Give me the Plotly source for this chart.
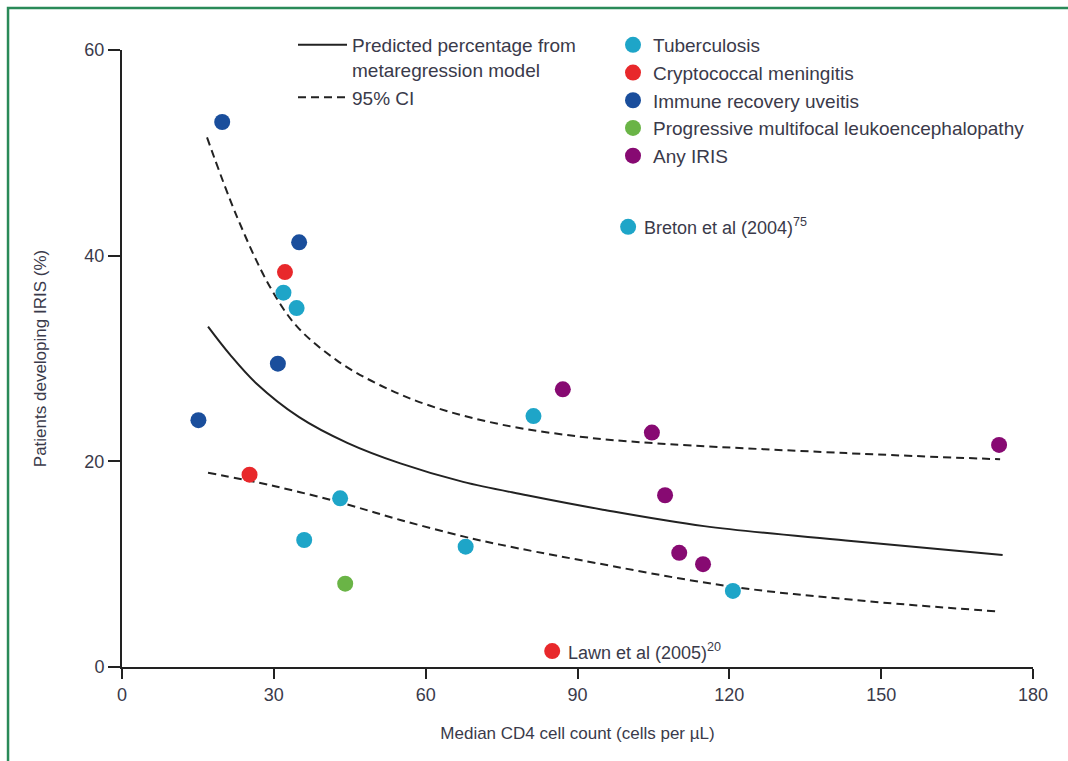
import plotly.graph_objects as go

# ---- data ----
model_x = [17.0, 21.3, 26.5, 35.0, 44.5, 55.0, 67.4, 80.0, 95.0, 115.0, 143.0, 174.0]
model_y = [33.1, 30.4, 27.6, 24.3, 21.8, 19.8, 18.0, 16.7, 15.3, 13.7, 12.3, 10.9]

ci_up_x = [16.8, 22.7, 29.2, 34.6, 42.5, 51.0, 60.9, 74.7, 90.5, 104.1, 143.1, 173.5]
ci_up_y = [51.5, 43.8, 37.0, 33.1, 29.8, 27.4, 25.4, 23.6, 22.4, 21.8, 20.8, 20.2]

ci_lo_x = [17.0, 30.0, 43.1, 55.0, 67.4, 74.7, 90.5, 119.2, 145.0, 173.1]
ci_lo_y = [18.9, 17.6, 16.0, 14.3, 12.7, 11.9, 10.4, 7.9, 6.5, 5.4]

tb_x = [31.9, 34.5, 81.3, 43.1, 36.0, 67.9, 120.7, 100.0]
tb_y = [36.4, 34.9, 24.4, 16.4, 12.35, 11.7, 7.4, 42.8]

cm_x = [32.2, 25.2, 85.0]
cm_y = [38.4, 18.7, 1.55]

iru_x = [19.8, 35.0, 30.8, 15.1]
iru_y = [53.0, 41.3, 29.5, 24.0]

pml_x = [44.1]
pml_y = [8.1]

any_x = [87.1, 104.7, 107.3, 110.1, 114.8, 173.3]
any_y = [27.0, 22.8, 16.7, 11.1, 10.0, 21.6]

x_ticks = [0, 30, 60, 90, 120, 150, 180]
y_ticks = [0, 20, 40, 60]

FONT = "Liberation Sans"
TXT = "#3a3a4a"
DASH = "8px,5px"

fig = go.Figure()

fig.add_trace(go.Scatter(x=model_x, y=model_y, mode="lines", line=dict(color="#222222", width=2, shape="spline"),
                         name="Predicted percentage from<br>metaregression model", legend="legend"))
fig.add_trace(go.Scatter(x=ci_up_x, y=ci_up_y, mode="lines", line=dict(color="#222222", width=2, dash=DASH, shape="spline"),
                         name="95% CI", legend="legend", legendgroup="ci"))
fig.add_trace(go.Scatter(x=ci_lo_x, y=ci_lo_y, mode="lines", line=dict(color="#222222", width=2, dash=DASH, shape="spline"),
                         name="95% CI", legend="legend", legendgroup="ci", showlegend=False))

cats = [
    ("Tuberculosis", tb_x, tb_y, "#1ea5c8"),
    ("Cryptococcal meningitis", cm_x, cm_y, "#e8282b"),
    ("Immune recovery uveitis", iru_x, iru_y, "#1a4e9c"),
    ("Progressive multifocal leukoencephalopathy", pml_x, pml_y, "#6ab446"),
    ("Any IRIS", any_x, any_y, "#870a72"),
]
for name, xs, ys, col in cats:
    fig.add_trace(go.Scatter(x=xs, y=ys, mode="markers", name=name, legend="legend2",
                             marker=dict(color=col, size=16, line=dict(width=0))))

fig.add_annotation(x=tb_x[-1], y=tb_y[-1], text="Breton et al (2004)<sup>75</sup>", showarrow=False,
                   xanchor="left", xshift=14, font=dict(family=FONT, size=18, color=TXT))
fig.add_annotation(x=cm_x[-1], y=cm_y[-1], text="Lawn et al (2005)<sup>20</sup>", showarrow=False,
                   xanchor="left", xshift=14, font=dict(family=FONT, size=18, color=TXT))

# partial green frame
fig.add_shape(type="rect", xref="paper", yref="paper", x0=-0.1251, x1=1.08, y0=-0.25, y1=1.0681,
              line=dict(color="#2a8a58", width=2.5), layer="below")

fig.update_layout(
    width=1068, height=761,
    margin=dict(l=122, r=35, t=50, b=94),
    paper_bgcolor="white", plot_bgcolor="white",
    font=dict(family=FONT, size=17, color=TXT),
    legend=dict(x=(293 - 122) / 911, y=(667 - 26) / 617, xanchor="left", yanchor="top",
                bgcolor="rgba(0,0,0,0)", font=dict(size=19, color=TXT), itemwidth=49, valign="top",
                tracegroupgap=0),
    legend2=dict(x=(613 - 122) / 911, y=(667 - 26) / 617, xanchor="left", yanchor="top",
                 bgcolor="rgba(0,0,0,0)", font=dict(size=19, color=TXT), tracegroupgap=0),
    xaxis=dict(range=[0, 180], tickvals=x_ticks, showgrid=False, zeroline=False,
               showline=True, linecolor="#222222", linewidth=2, ticks="outside", ticklen=10,
               tickwidth=2, tickcolor="#222222", tickfont=dict(size=18, color=TXT),
               title=dict(text="Median CD4 cell count (cells per µL)", font=dict(size=17, color=TXT), standoff=24)),
    yaxis=dict(range=[0, 60], tickvals=y_ticks, showgrid=False, zeroline=False,
               showline=True, linecolor="#222222", linewidth=2, ticks="outside", ticklen=12,
               tickwidth=2, tickcolor="#222222", tickfont=dict(size=18, color=TXT),
               title=dict(text="Patients developing IRIS (%)", font=dict(size=17, color=TXT), standoff=33)),
)

fig.write_html("out.html")
